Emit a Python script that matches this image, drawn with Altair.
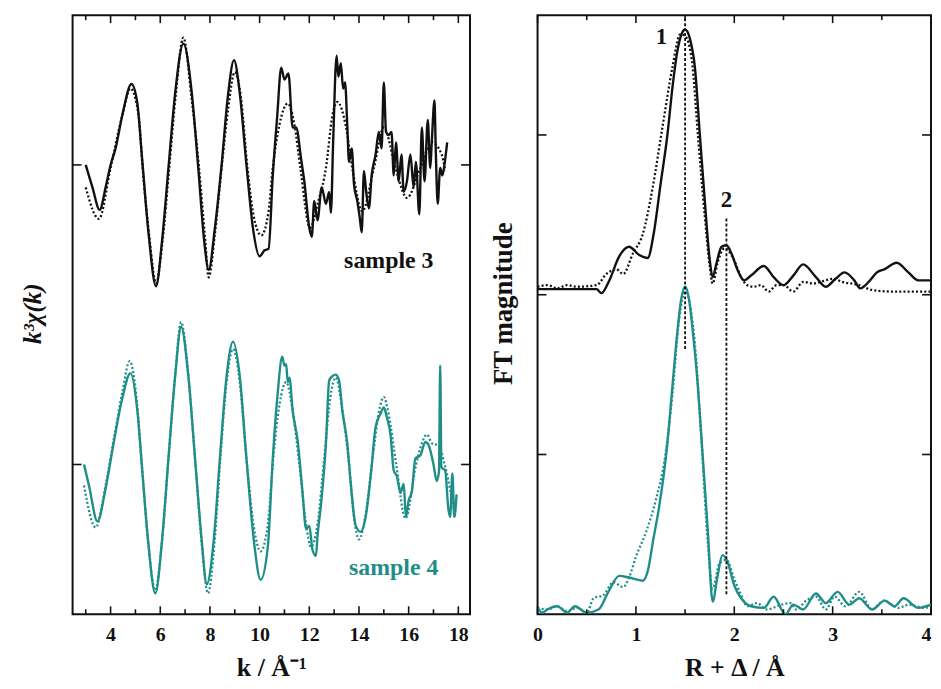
import altair as alt
import pandas as pd

# ---------------- data ----------------
# left panel: k^3 chi(k), values relative to each trace's baseline
S3_K = [3.0, 3.27, 3.56, 3.8, 4.0, 4.2, 4.47, 4.84, 5.07, 5.27, 5.53, 5.83, 6.07, 6.33, 6.6, 6.93, 7.27, 7.53,
        7.77, 7.95, 8.2, 8.47, 8.71, 8.97, 9.2, 9.47, 9.73, 10.0, 10.2, 10.36, 10.53, 10.71, 10.87, 11.0, 11.16,
        11.33, 11.47, 11.67, 11.8, 12.0, 12.1, 12.2, 12.33, 12.5, 12.67, 12.8, 12.87, 12.96, 13.1, 13.17, 13.27,
        13.36, 13.44, 13.53, 13.6, 13.71, 13.8, 13.93, 14.03, 14.11, 14.2, 14.29, 14.4, 14.51, 14.67, 14.8,
        14.91, 15.0, 15.09, 15.2, 15.31, 15.4, 15.49, 15.6, 15.71, 15.8, 15.93, 16.07, 16.2, 16.29, 16.43,
        16.53, 16.64, 16.77, 16.87, 16.93, 17.04, 17.09, 17.17, 17.27, 17.36, 17.44, 17.55]
S3_CHI = [0.0, -0.15, -0.30, -0.15, 0.0, 0.11, 0.33, 0.54, 0.42, 0.04, -0.46, -0.81, -0.51, -0.02, 0.48, 0.81,
          0.48, -0.02, -0.51, -0.70, -0.42, 0.0, 0.44, 0.70, 0.48, 0.0, -0.42, -0.61, -0.57, -0.56, -0.07, 0.33,
          0.65, 0.57, 0.61, 0.25, 0.25, 0.04, -0.11, -0.42, -0.48, -0.24, -0.37, -0.15, -0.26, -0.18, -0.32,
          0.15, 0.73, 0.59, 0.68, 0.51, 0.55, 0.26, 0.02, 0.11, -0.13, -0.24, -0.35, -0.45, -0.04, -0.18,
          -0.29, -0.07, 0.07, 0.22, 0.11, 0.55, 0.22, 0.20, 0.22, -0.07, 0.15, -0.11, 0.07, -0.18, -0.11, 0.07,
          -0.15, 0.02, -0.33, 0.25, -0.11, 0.30, -0.02, 0.15, 0.43, 0.11, -0.26, -0.02, -0.07, 0.0, 0.15]
S3_FIT_K = [3.0, 3.53, 4.0, 4.47, 4.8, 5.13, 5.29, 5.56, 5.83, 6.09, 6.36, 6.63, 6.93, 7.25, 7.56, 7.8, 7.95,
            8.2, 8.47, 8.73, 9.0, 9.24, 9.51, 9.77, 10.07, 10.36, 10.53, 10.8, 11.13, 11.4, 11.64, 12.03, 12.35,
            12.67, 12.93, 13.13, 13.47, 13.73, 14.13, 14.6, 15.0, 15.47, 15.93, 16.47, 16.93, 17.33, 17.47]
S3_FIT_CHI = [-0.15, -0.36, -0.02, 0.33, 0.51, 0.33, -0.02, -0.48, -0.79, -0.51, -0.02, 0.48, 0.85, 0.46,
              -0.02, -0.48, -0.75, -0.46, -0.02, 0.37, 0.62, 0.46, -0.02, -0.35, -0.47, -0.31, -0.02, 0.27,
              0.41, 0.27, -0.02, -0.42, -0.25, -0.02, 0.33, 0.42, 0.26, -0.02, -0.31, -0.02, 0.25, -0.02, -0.22,
              -0.02, 0.15, 0.07, -0.04]
S4_K = [2.93, 3.13, 3.47, 3.8, 4.13, 4.47, 4.8, 5.07, 5.27, 5.51, 5.8, 6.07, 6.33, 6.6, 6.84, 7.13, 7.4, 7.67,
        7.87, 8.15, 8.4, 8.67, 8.93, 9.2, 9.47, 9.77, 10.04, 10.33, 10.53, 10.73, 10.91, 11.0, 11.07, 11.13,
        11.2, 11.33, 11.53, 11.73, 11.87, 12.0, 12.13, 12.27, 12.33, 12.47, 12.67, 12.8, 12.93, 13.07, 13.2,
        13.33, 13.53, 13.67, 13.87, 14.07, 14.27, 14.47, 14.67, 14.87, 15.0, 15.13, 15.27, 15.4, 15.53, 15.67,
        15.8, 15.89, 16.0, 16.13, 16.27, 16.47, 16.67, 16.8, 17.0, 17.13, 17.22, 17.27, 17.32, 17.47, 17.6,
        17.67, 17.76, 17.84, 17.93]
S4_CHI = [0.0, -0.14, -0.38, -0.16, 0.15, 0.44, 0.61, 0.37, -0.03, -0.51, -0.86, -0.51, 0.04, 0.59, 0.92,
          0.59, 0.04, -0.51, -0.80, -0.51, 0.04, 0.59, 0.82, 0.59, 0.04, -0.51, -0.77, -0.55, 0.04, 0.48, 0.72,
          0.66, 0.67, 0.55, 0.58, 0.36, 0.16, -0.19, -0.43, -0.41, -0.57, -0.61, -0.48, -0.27, 0.14, 0.56,
          0.59, 0.60, 0.56, 0.36, 0.14, -0.13, -0.41, -0.45, -0.35, -0.08, 0.25, 0.34, 0.38, 0.31, 0.20, -0.04,
          -0.08, -0.19, -0.13, -0.35, -0.24, -0.18, 0.04, 0.06, 0.15, 0.13, 0.0, -0.11, -0.05, 0.66, -0.02,
          -0.04, -0.30, -0.35, -0.06, -0.35, -0.20]
S4_FIT_K = [2.93, 3.4, 3.8, 4.13, 4.47, 4.77, 5.07, 5.27, 5.51, 5.8, 6.07, 6.33, 6.6, 6.84, 7.13, 7.4, 7.67,
            7.92, 8.18, 8.42, 8.67, 8.93, 9.2, 9.47, 9.77, 10.04, 10.33, 10.55, 10.8, 11.07, 11.33, 11.6, 11.87,
            12.07, 12.33, 12.6, 12.85, 13.07, 13.3, 13.6, 13.8, 14.0, 14.25, 14.55, 14.8, 15.0, 15.2, 15.5,
            15.87, 16.3, 16.55, 16.73, 16.95, 17.2, 17.45, 17.87]
S4_FIT_CHI = [-0.14, -0.42, -0.14, 0.17, 0.48, 0.69, 0.40, -0.03, -0.51, -0.84, -0.51, 0.04, 0.60, 0.95, 0.60,
              0.04, -0.53, -0.86, -0.53, 0.04, 0.55, 0.77, 0.55, 0.04, -0.42, -0.58, -0.40, 0.04, 0.40, 0.55,
              0.36, 0.0, -0.40, -0.55, -0.40, 0.04, 0.45, 0.58, 0.40, 0.0, -0.35, -0.50, -0.35, 0.04, 0.35, 0.45,
              0.33, 0.0, -0.36, 0.0, 0.15, 0.20, 0.14, 0.13, 0.0, -0.35]
S3_OFFSET = 2.0
S4_OFFSET = 0.0

# right panel: FT magnitude (absolute plotted values)
FT3_R = [0.0, 0.6, 0.65, 0.73, 0.83, 0.93, 1.03, 1.12, 1.18, 1.25, 1.32, 1.37, 1.42, 1.47, 1.5, 1.55, 1.6, 1.65,
         1.7, 1.75, 1.78, 1.82, 1.87, 1.92, 1.97, 2.03, 2.1, 2.17, 2.3, 2.4, 2.5, 2.6, 2.7, 2.83, 2.93, 3.03,
         3.12, 3.22, 3.28, 3.38, 3.45, 3.53, 3.65, 3.77, 3.87, 4.0]
FT3_MAG = [2.035, 2.035, 2.01, 2.09, 2.24, 2.30, 2.25, 2.23, 2.38, 2.69, 3.0, 3.29, 3.52, 3.64, 3.66, 3.60,
           3.42, 3.0, 2.59, 2.22, 2.11, 2.20, 2.30, 2.31, 2.26, 2.16, 2.09, 2.12, 2.18, 2.11, 2.06, 2.12, 2.19,
           2.11, 2.05, 2.10, 2.14, 2.09, 2.04, 2.09, 2.14, 2.16, 2.20, 2.14, 2.09, 2.09]
FT3_FIT_R = [0.0, 0.1, 0.2, 0.3, 0.4, 0.6, 0.7, 0.8, 0.87, 0.97, 1.07, 1.17, 1.27, 1.37, 1.45, 1.5, 1.57, 1.63,
             1.7, 1.75, 1.78, 1.83, 1.9, 1.98, 2.07, 2.13, 2.2, 2.27, 2.35, 2.43, 2.5, 2.6, 2.7, 2.8, 2.93, 3.0,
             3.1, 3.27, 3.4, 3.6, 3.77, 4.0]
FT3_FIT_MAG = [2.05, 2.06, 2.04, 2.06, 2.05, 2.06, 2.13, 2.16, 2.13, 2.26, 2.38, 2.67, 3.05, 3.42, 3.63, 3.62,
               3.46, 3.0, 2.49, 2.18, 2.07, 2.20, 2.29, 2.24, 2.11, 2.06, 2.05, 2.06, 2.02, 2.06, 2.06, 2.02,
               2.08, 2.07, 2.09, 2.10, 2.08, 2.06, 2.03, 2.02, 2.02, 2.02]
FT4_R = [0.0, 0.05, 0.1, 0.2, 0.3, 0.38, 0.5, 0.62, 0.72, 0.83, 0.93, 1.07, 1.12, 1.18, 1.23, 1.32, 1.37, 1.42,
         1.46, 1.5, 1.54, 1.58, 1.62, 1.67, 1.73, 1.78, 1.83, 1.88, 1.93, 2.0, 2.07, 2.17, 2.3, 2.4, 2.52, 2.6,
         2.7, 2.83, 2.93, 3.05, 3.17, 3.27, 3.4, 3.53, 3.63, 3.72, 3.87, 4.0]
FT4_MAG = [0.04, 0.01, 0.03, 0.05, 0.01, 0.05, 0.01, 0.03, 0.14, 0.24, 0.23, 0.21, 0.27, 0.48, 0.65, 1.07, 1.42,
           1.76, 1.97, 2.05, 1.97, 1.76, 1.50, 1.07, 0.53, 0.08, 0.24, 0.37, 0.33, 0.18, 0.10, 0.05, 0.04, 0.11,
           0.0, 0.06, 0.03, 0.13, 0.07, 0.14, 0.06, 0.10, 0.03, 0.085, 0.05, 0.10, 0.04, 0.06]
FT4_FIT_R = [0.0, 0.1, 0.2, 0.3, 0.4, 0.5, 0.57, 0.67, 0.77, 0.87, 0.93, 1.0, 1.1, 1.2, 1.3, 1.37, 1.44, 1.5,
             1.56, 1.6, 1.67, 1.73, 1.78, 1.85, 1.92, 2.0, 2.07, 2.13, 2.23, 2.33, 2.48, 2.57, 2.63, 2.73, 2.83,
             2.93, 3.02, 3.13, 3.27, 3.4, 3.52, 3.67, 3.77, 3.93, 4.0]
FT4_FIT_MAG = [0.04, 0.03, 0.05, 0.02, 0.04, 0.01, 0.10, 0.12, 0.20, 0.17, 0.23, 0.36, 0.51, 0.71, 1.0, 1.37,
               1.85, 2.02, 1.90, 1.69, 1.05, 0.45, 0.16, 0.32, 0.34, 0.22, 0.12, 0.05, 0.07, 0.03, 0.06, 0.07,
               0.03, 0.085, 0.11, 0.03, 0.11, 0.05, 0.14, 0.03, 0.085, 0.04, 0.06, 0.04, 0.05]

# peak markers on the FT panel
PEAK_LABELS = ["1", "2"]
PEAK_LABEL_R = [1.26, 1.92]
PEAK_LABEL_Y = [3.61, 2.59]
VLINE_R = [1.5, 1.92]
VLINE_LO = [1.66, 0.126]
VLINE_HI = [3.75, 2.49]

# sample labels on the left panel
SAMPLE_LABELS = ["sample 3", "sample 4"]
SAMPLE_LABEL_K = [15.2, 15.4]
SAMPLE_LABEL_Y = [1.36, -0.69]

# axis ticks
K_MAJOR = [4, 6, 8, 10, 12, 14, 16, 18]
K_MINOR = [3, 5, 7, 9, 11, 13, 15, 17]
K_YTICKS = [0, 2]
R_MAJOR = [0, 1, 2, 3, 4]
R_MINOR = [0.5, 1.5, 2.5, 3.5]
R_YTICKS = [1, 2, 3]

# ---------------- styling ----------------
BLACK = "#111111"
TEAL = "#1f8e88"
FONT = "Liberation Serif"
WL, WR, H = 400, 396, 603
K_DOMAIN = [2.47, 18.47]
KY_DOMAIN = [-1.0, 3.0]
R_DOMAIN = [0.0, 4.0]
RY_DOMAIN = [0.0, 3.75]


def x_axis(values, title, last_right=None):
    kw = {}
    if last_right is not None:
        kw["labelAlign"] = {"condition": {"test": f"datum.value === {last_right}", "value": "right"},
                            "value": "center"}
    return alt.Axis(values=values, ticks=False, tickSize=0, domain=False, grid=False,
                    labelFont=FONT, labelFontSize=20, labelFontWeight="bold", labelColor=BLACK,
                    labelPadding=10, format="d",
                    title=title, titleFont=FONT, titleFontSize=26, titleFontWeight="bold",
                    titleColor=BLACK, titlePadding=11, **kw)


def y_axis(title, italic, pad, size, title_y):
    return alt.Axis(labels=False, ticks=False, tickSize=0, domain=False, grid=False,
                    title=title, titleFont=FONT, titleFontSize=size, titleFontWeight="bold",
                    titleFontStyle="italic" if italic else "normal",
                    titleColor=BLACK, titlePadding=pad, titleY=title_y)


class Panel:
    def __init__(self, xdom, ydom, xaxis, yaxis, width):
        self.sx = alt.Scale(domain=xdom, nice=False, zero=False)
        self.sy = alt.Scale(domain=ydom, nice=False, zero=False)
        self.xaxis = xaxis
        self.yaxis = yaxis
        self.w = width

    def X(self, field):
        return alt.X(field, scale=self.sx, axis=self.xaxis)

    def Y(self, field):
        return alt.Y(field, scale=self.sy, axis=self.yaxis)

    def line(self, xs, ys, color, dotted, offset=0.0):
        df = pd.DataFrame({"x": xs, "y": [v + offset for v in ys]})
        kw = dict(color=color, interpolate="monotone", clip=True)
        if dotted:
            kw.update(strokeWidth=2.3, strokeDash=[2, 2.2])
        else:
            kw.update(strokeWidth=2.4)
        return alt.Chart(df).mark_line(**kw).encode(x=self.X("x:Q"), y=self.Y("y:Q"))

    def ticks(self, xmajor, xminor, yticks):
        layers = []
        for vals, ln in ((xmajor, 8), (xminor, 5)):
            d = pd.DataFrame({"x": vals})
            layers.append(alt.Chart(d).mark_rule(color=BLACK, strokeWidth=1.6).encode(
                x=self.X("x:Q"), y=alt.value(H), y2=alt.value(H - ln)))
            layers.append(alt.Chart(d).mark_rule(color=BLACK, strokeWidth=1.6).encode(
                x=self.X("x:Q"), y=alt.value(0), y2=alt.value(ln)))
        d = pd.DataFrame({"y": yticks})
        layers.append(alt.Chart(d).mark_rule(color=BLACK, strokeWidth=1.6).encode(
            y=self.Y("y:Q"), x=alt.value(0), x2=alt.value(9)))
        layers.append(alt.Chart(d).mark_rule(color=BLACK, strokeWidth=1.6).encode(
            y=self.Y("y:Q"), x=alt.value(self.w - 9), x2=alt.value(self.w)))
        return layers

    def text(self, labels, xs, ys, color, size):
        d = pd.DataFrame({"label": labels, "x": xs, "y": ys})
        return alt.Chart(d).mark_text(font=FONT, fontSize=size, fontWeight="bold", color=color,
                                      align="center", baseline="middle").encode(
            x=self.X("x:Q"), y=self.Y("y:Q"), text="label:N")


# ---------------- left panel ----------------
pl = Panel(K_DOMAIN, KY_DOMAIN, x_axis(K_MAJOR, "k / Å⁻¹"), y_axis("k³χ(k)", True, 27, 25, 300), WL)
left_layers = [
    pl.line(S3_FIT_K, S3_FIT_CHI, BLACK, True, S3_OFFSET),
    pl.line(S3_K, S3_CHI, BLACK, False, S3_OFFSET),
    pl.line(S4_FIT_K, S4_FIT_CHI, TEAL, True, S4_OFFSET),
    pl.line(S4_K, S4_CHI, TEAL, False, S4_OFFSET),
    pl.text(SAMPLE_LABELS[:1], SAMPLE_LABEL_K[:1], SAMPLE_LABEL_Y[:1], BLACK, 24),
    pl.text(SAMPLE_LABELS[1:], SAMPLE_LABEL_K[1:], SAMPLE_LABEL_Y[1:], TEAL, 24),
] + pl.ticks(K_MAJOR, K_MINOR, K_YTICKS)
left = alt.layer(*left_layers).properties(width=WL, height=H)

# ---------------- right panel ----------------
pr = Panel(R_DOMAIN, RY_DOMAIN, x_axis(R_MAJOR, "R + Δ / Å", last_right=4),
           y_axis("FT magnitude", False, 20, 27, 290), WR)
vl_df = pd.DataFrame({"x": VLINE_R, "lo": VLINE_LO, "hi": VLINE_HI})
vlines = alt.Chart(vl_df).mark_rule(color=BLACK, strokeWidth=1.8, strokeDash=[3, 2]).encode(
    x=pr.X("x:Q"), y=pr.Y("lo:Q"), y2="hi:Q")
right_layers = [
    pr.line(FT3_FIT_R, FT3_FIT_MAG, BLACK, True),
    pr.line(FT3_R, FT3_MAG, BLACK, False),
    pr.line(FT4_FIT_R, FT4_FIT_MAG, TEAL, True),
    pr.line(FT4_R, FT4_MAG, TEAL, False),
    vlines,
    pr.text(PEAK_LABELS, PEAK_LABEL_R, PEAK_LABEL_Y, BLACK, 23),
] + pr.ticks(R_MAJOR, R_MINOR, R_YTICKS)
right = alt.layer(*right_layers).properties(width=WR, height=H)

chart = alt.hconcat(left, right, spacing=17).properties(
    padding={"left": 12, "top": 3, "right": 0, "bottom": 0},
    background="white",
).configure_view(stroke=BLACK, strokeWidth=2)

chart.save("out.html", embed_options={"renderer": "svg", "actions": False})
